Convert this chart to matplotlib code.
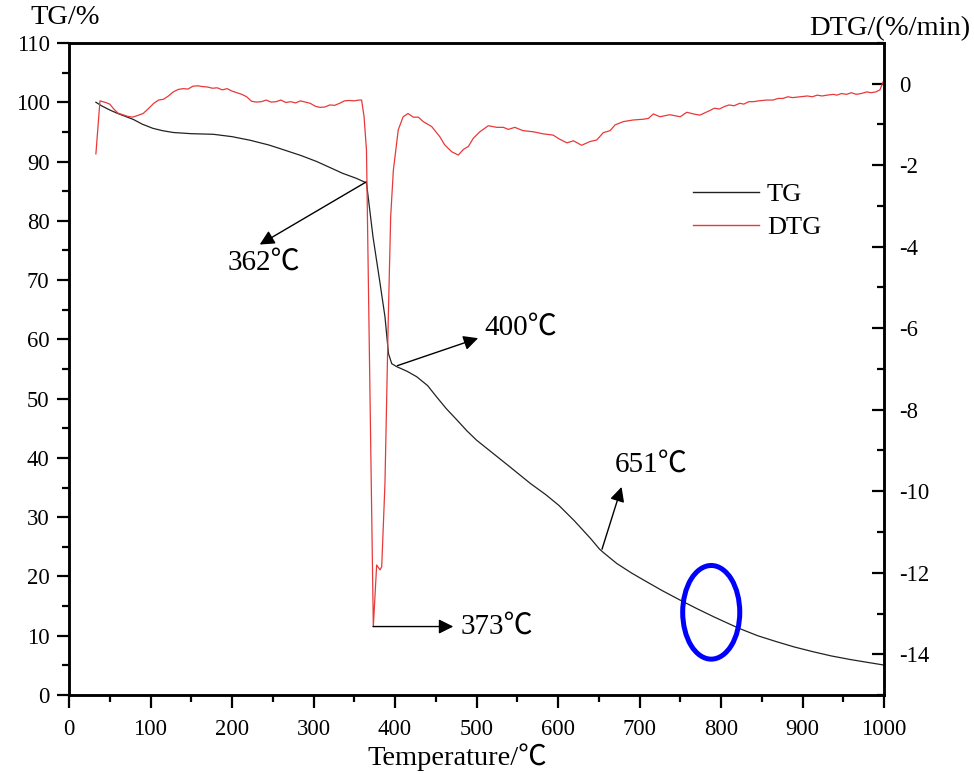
import matplotlib
matplotlib.use("Agg")
import matplotlib.pyplot as plt
from matplotlib.patches import Ellipse
from matplotlib.ticker import MultipleLocator
import numpy as np

plt.rcParams['font.family'] = ['Liberation Serif', 'Noto Sans CJK SC', 'DejaVu Serif']
plt.rcParams['axes.unicode_minus'] = False

# Thermogravimetric curve (mass %)
tg_temp = [33, 40, 50, 60, 79, 90, 103, 115, 128, 150, 177, 200, 222, 245, 263, 285,
           304, 320, 336, 352, 365, 373, 381.6, 387.7, 392, 396, 402, 415, 426.6, 440,
           451, 463, 476, 488, 500, 520, 540, 566, 585, 601, 620, 640, 651, 656, 672,
           690, 705, 728, 750, 770, 791, 810, 823, 845, 868, 890, 913, 935, 958, 980, 1000]
tg_mass = [100.0, 99.4, 98.7, 98.1, 97.1, 96.3, 95.6, 95.2, 94.9, 94.7, 94.6, 94.2, 93.6,
           92.8, 92.0, 91.0, 90.0, 89.0, 88.0, 87.2, 86.4, 77.3, 69.5, 63.8, 57.6, 55.9,
           55.4, 54.6, 53.7, 52.2, 50.3, 48.3, 46.4, 44.6, 43.0, 40.8, 38.6, 35.7, 33.8,
           32.0, 29.4, 26.4, 24.6, 24.0, 22.2, 20.6, 19.4, 17.6, 16.0, 14.6, 13.2, 12.0,
           11.2, 10.0, 9.0, 8.1, 7.3, 6.6, 6.0, 5.5, 5.05]

# Derivative curve (%/min)
dtg_temp = [33, 38, 45, 50, 55, 60, 66, 72, 78, 84,
            91, 98, 104, 110, 116, 122, 128, 134, 140, 146,
            152, 158, 164, 170, 176, 182, 188, 194, 200, 206,
            212, 218, 224, 230, 236, 242, 248, 254, 260, 266,
            272, 278, 284, 290, 296, 302, 308, 314, 320, 326,
            332, 338, 344, 350, 356, 359,
            362, 365, 373.4, 377.5, 381.6, 383.7, 387.7, 391.8, 394.7, 398,
            404, 410, 416, 422.5, 428.6, 434.7, 445, 455, 461, 469.6,
            477.7, 484, 490, 496, 504, 514.5, 525, 533, 539, 547,
            557, 570, 582, 594, 602, 611, 619, 629, 639, 647.5,
            655.6, 664, 670, 680, 692, 705, 711, 717, 725, 737,
            750, 758, 766, 774, 786,
            792, 798, 804, 810, 816, 823, 828, 834, 840, 846,
            856, 864, 870, 876, 882, 888, 897, 906, 912, 918,
            924, 930, 938, 942, 948, 954, 960, 966, 972, 979,
            984, 990, 995, 999]
dtg_rate = [-1.72, -0.42, -0.46, -0.50, -0.62, -0.72, -0.76, -0.80, -0.82, -0.78,
            -0.73, -0.60, -0.48, -0.40, -0.38, -0.30, -0.20, -0.14, -0.12, -0.13,
            -0.06, -0.05, -0.07, -0.08, -0.11, -0.10, -0.15, -0.12, -0.18, -0.22,
            -0.26, -0.32, -0.43, -0.45, -0.44, -0.40, -0.45, -0.44, -0.40, -0.46,
            -0.44, -0.47, -0.42, -0.45, -0.48, -0.55, -0.58, -0.57, -0.52, -0.53,
            -0.48, -0.42, -0.41, -0.42, -0.40, -0.40,
            -0.80, -1.63, -13.32, -11.81, -11.93, -11.85, -9.80, -5.72, -3.26, -2.12,
            -1.13, -0.81, -0.73, -0.82, -0.82, -0.93, -1.05, -1.30, -1.50, -1.67,
            -1.75, -1.61, -1.54, -1.34, -1.18, -1.03, -1.07, -1.07, -1.12, -1.07,
            -1.15, -1.18, -1.23, -1.26, -1.36, -1.45, -1.40, -1.51, -1.42, -1.38,
            -1.20, -1.15, -1.01, -0.93, -0.89, -0.87, -0.85, -0.74, -0.81, -0.76,
            -0.81, -0.70, -0.74, -0.77, -0.66,
            -0.60, -0.62, -0.56, -0.52, -0.54, -0.48, -0.50, -0.44, -0.44, -0.42,
            -0.40, -0.40, -0.36, -0.36, -0.32, -0.34, -0.32, -0.30, -0.32, -0.28,
            -0.30, -0.28, -0.26, -0.28, -0.24, -0.26, -0.22, -0.26, -0.24, -0.20,
            -0.22, -0.20, -0.15, 0.05]

x_ticks = list(range(0, 1001, 100))
tg_ticks = list(range(0, 111, 10))
dtg_ticks = list(range(-14, 1, 2))

# Marked temperatures
tg_marks = [362, 400, 651]
dtg_peak_temp = 373

fig = plt.figure(figsize=(9.74, 7.74), dpi=100)
ax = fig.add_axes([69 / 974, 1 - 695 / 774, (884 - 69) / 974, (695 - 43) / 774])
ax2 = ax.twinx()

ax.plot(tg_temp, tg_mass, color='#222222', lw=0.9, label='TG')
ax2.plot(dtg_temp, dtg_rate, color='#e8393a', lw=0.9, label='DTG')

ax.set_xlim(0, 1000)
ax.set_ylim(0, 110)
ax2.set_ylim(-15, 1)

ax.set_xticks(x_ticks)
ax.set_yticks(tg_ticks)
ax.xaxis.set_minor_locator(MultipleLocator(50))
ax.yaxis.set_minor_locator(MultipleLocator(5))
ax2.set_yticks(dtg_ticks)
ax2.yaxis.set_minor_locator(MultipleLocator(1))

for a in (ax, ax2):
    for s in a.spines.values():
        s.set_linewidth(1.8)

ax.tick_params(axis='both', which='major', direction='out', length=9, width=1.6,
               labelsize=16.3, pad=5)
ax.tick_params(axis='x', which='major', pad=8)
ax.tick_params(axis='both', which='minor', direction='out', length=5, width=1.6)
ax.tick_params(axis='x', top=False, which='both')
ax.tick_params(axis='y', right=False, which='both')
ax2.tick_params(axis='y', which='major', direction='in', length=9, width=1.6,
                labelsize=16.3, pad=11)
ax2.tick_params(axis='y', which='minor', direction='in', length=5, width=1.6)

ax.set_xlabel('Temperature/℃', fontsize=20.5)
ax.xaxis.set_label_coords((457 - 69) / 815, -0.074)

fig.text(30 / 974, 1 - 18 / 774, 'TG/%', fontsize=20.5, ha='left', va='center')
fig.text(970 / 974, 1 - 29 / 774, 'DTG/(%/min)', fontsize=20.5, ha='right', va='center')

# Legend
h1, l1 = ax.get_legend_handles_labels()
h2, l2 = ax2.get_legend_handles_labels()
leg = ax2.legend(h1 + h2, l1 + l2, loc='upper left', frameon=False, fontsize=19,
                 handlelength=2.5, handletextpad=0.3, labelspacing=0.35,
                 borderpad=0, borderaxespad=0,
                 bbox_to_anchor=(693 / 974, 1 - 183 / 774),
                 bbox_transform=fig.transFigure)
for line in leg.get_lines():
    line.set_linewidth(1.0)

arrow_kw = dict(arrowstyle='-|>', color='black', lw=1.0, mutation_scale=22,
                shrinkA=0, shrinkB=0)
ann_size = 21

# TG annotations: (arrow head, text anchor)
heads = [(234, 76.0), (502, 60.2), (678, 35.1)]
text_pos = [(194, 73.0), (510, 61.9), (670, 38.8)]
for t, head, tp in zip(tg_marks, heads, text_pos):
    y0 = np.interp(t, tg_temp, tg_mass)
    ax.annotate('', xy=head, xytext=(t + 3, y0), arrowprops=arrow_kw)
    ax.text(tp[0], tp[1], f'{t}℃', fontsize=ann_size, ha='left', va='center')

# DTG peak annotation
peak_rate = min(dtg_rate)
ax2.annotate('', xy=(471.5, peak_rate), xytext=(dtg_peak_temp, peak_rate),
             arrowprops=arrow_kw)
ax2.text(480, peak_rate, f'{dtg_peak_temp}℃', fontsize=ann_size, ha='left', va='center')

# Highlight around the 800 °C region
ax.add_patch(Ellipse((788, 13.95), width=70, height=15.8, fill=False,
                     edgecolor='#0000ff', lw=3.6, zorder=5))

fig.savefig('out.png', dpi=100)
